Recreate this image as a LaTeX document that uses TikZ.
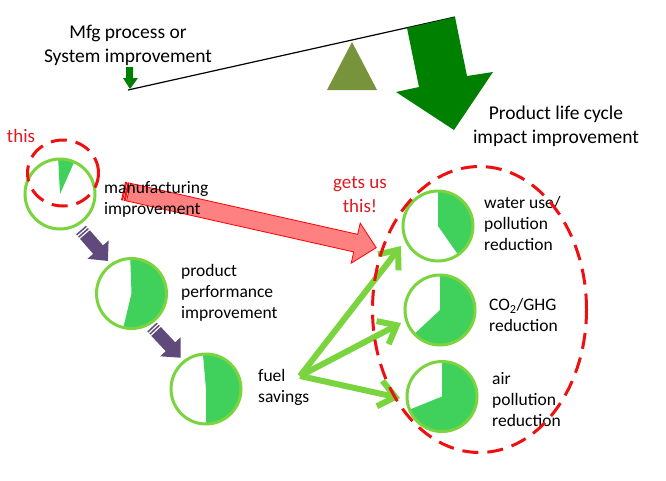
\documentclass[tikz,border=0pt]{standalone}
\usepackage{fontspec}
\setmainfont{Carlito}
\usetikzlibrary{arrows.meta,shapes.geometric}
\definecolor{ringgreen}{RGB}{122,212,62}
\definecolor{piegreen}{RGB}{64,208,92}
\definecolor{darkgr}{RGB}{0,128,0}
\definecolor{olivetri}{RGB}{119,147,60}
\definecolor{purp}{RGB}{96,74,123}
\definecolor{salmonfill}{RGB}{255,128,128}
\definecolor{redtxt}{RGB}{224,24,32}
\definecolor{reddash}{RGB}{238,16,16}
\newcommand\mypie[5]{%
  \fill[piegreen] (#2,#3) -- ++(#4:35) arc[start angle=#4, end angle=#5, radius=35] -- cycle;
  \node[ring] (#1) at (#2,#3) {};}
\newcommand\stripearrow[4]{%
  \begin{scope}[shift={(#1,#2)}, rotate=#3]
    \fill[purp] (0,-6.5) rectangle (1.5,6.5);
    \fill[purp] (3,-6.5) rectangle (4.5,6.5);
    \fill[purp] (6,-6.5) -- (#4-15,-6.5) -- (#4-15,-14) -- (#4,0) -- (#4-15,14) -- (#4-15,6.5) -- (6,6.5) -- cycle;
  \end{scope}}
\begin{document}
\begin{tikzpicture}[x=1pt,y=-1pt,
  ring/.style={circle, draw=ringgreen, line width=3, minimum size=70, inner sep=0},
  lbl/.style={anchor=west, align=left, inner sep=0, font=\fontsize{17.5pt}{21pt}\selectfont},
  bigtxt/.style={align=center, inner sep=0, font=\fontsize{19.5pt}{24pt}\selectfont},
  redt/.style={align=center, inner sep=0, text=redtxt, font=\fontsize{19pt}{24pt}\selectfont},
  dashring/.style={ellipse, draw=reddash, line width=3, dash pattern=on 16pt off 9pt, inner sep=0},
  garrow/.style={draw=ringgreen, line width=6, -{Straight Barb[length=16pt,width=26pt]}}]
\useasboundingbox (0,0) rectangle (666,480);
\fill[white] (0,0) rectangle (666,480);

% lever
\coordinate (lv1) at (128,90);
\coordinate (lv2) at (455,17);
\draw[black, line width=1.2] (lv1) -- (lv2);
\fill[olivetri] (352,42) -- (327,90) -- (377,90) -- cycle;
\fill[darkgr] (407,28) -- (455,17) -- (467,76) -- (493,72) -- (454,130) -- (396,92) -- (419,87) -- cycle;
\fill[darkgr] (126,67) -- (133,67) -- (133,78) -- (138,78) -- (130,89) -- (123,78) -- (126,78) -- cycle;

\node[bigtxt] (mfg) at (128,45) {Mfg process or\\System improvement};
\node[bigtxt] (plc) at (556,126) {Product life cycle\\impact improvement};

% red arrow
\begin{scope}[shift={(123.5,191)}, rotate=-12.65]
  \filldraw[fill=salmonfill, draw=red, line width=0.8] (0,-9) rectangle (1.2,9);
  \filldraw[fill=salmonfill, draw=red, line width=0.8] (2.6,-9) rectangle (3.8,9);
  \filldraw[fill=salmonfill, draw=red, line width=0.8] (5.2,-9) -- (238,-9) -- (238,-20.5) -- (259,0) -- (238,20.5) -- (238,9) -- (5.2,9) -- cycle;
\end{scope}

% pies
\mypie{c1}{60}{194}{-93}{-66}
\mypie{c2}{131.5}{293.5}{-92}{103.5}
\mypie{c3}{206}{389}{-95}{90}
\mypie{wa}{438}{226}{-90}{55}
\mypie{co}{440}{310}{-90}{137}
\mypie{ai}{442}{396.5}{-90}{158}

% purple arrows
\stripearrow{81}{230}{-49}{41}
\stripearrow{152}{327}{-47}{42}

% labels
\node[lbl] (manu) at (104,199.5) {manufacturing\\improvement};
\node[lbl] (perf) at (181,293) {product\\performance\\improvement};
\node[lbl] (fuel) at (258,387.5) {fuel\\savings};
\node[lbl] (watl) at (484,223) {water use/\\pollution\\reduction};
\node[lbl] (col) at (489,315) {CO\textsubscript{2}/GHG\\reduction};
\node[lbl] (airl) at (492,399.5) {air\\pollution\\reduction};

\node[redt] (this1) at (21,136) {this};
\node[redt] (gets) at (360,195) {gets us\\this!};

% green arrows
\coordinate (fs) at (300,376);
\coordinate (t1) at (401,246);
\coordinate (t2) at (401,323);
\coordinate (t3) at (400,398);
\draw[garrow] (fs) -- (t1);
\draw[garrow] (fs) -- (t2);
\draw[garrow] (fs) -- (t3);

% dashed highlights
\node[dashring, minimum width=71, minimum height=66] (hl1) at (63,173) {};
\node[dashring, minimum width=214, minimum height=286] (hl2) at (479.5,309.5) {};
\end{tikzpicture}
\end{document}
